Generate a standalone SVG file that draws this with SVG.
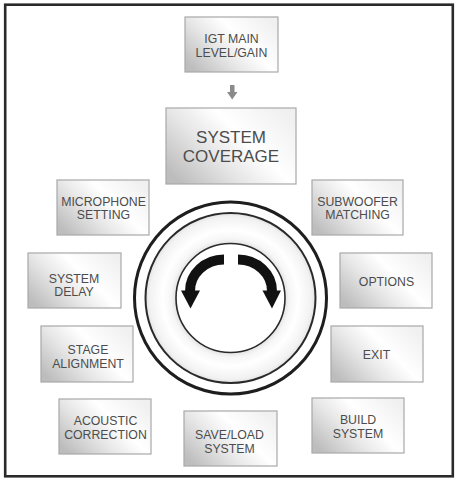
<svg xmlns="http://www.w3.org/2000/svg" width="456" height="479" viewBox="0 0 456 479">
<defs>
<linearGradient id="boxg" x1="0" y1="0.8" x2="1" y2="0.2">
<stop offset="0" stop-color="#bdbdbd"/>
<stop offset="0.35" stop-color="#e6e6e6"/>
<stop offset="0.62" stop-color="#ffffff"/>
<stop offset="1" stop-color="#f0f0f0"/>
</linearGradient>
<radialGradient id="ringg" cx="230.5" cy="298" r="85" gradientUnits="userSpaceOnUse">
<stop offset="0.64" stop-color="#e2e2e2"/>
<stop offset="0.7" stop-color="#f6f6f6"/>
<stop offset="0.8" stop-color="#ffffff"/>
<stop offset="0.95" stop-color="#f2f2f2"/>
<stop offset="1" stop-color="#e2e2e2"/>
</radialGradient>
<style>
.box{fill:url(#boxg);stroke:#a8a8a8;stroke-width:1.2}
.t{font-family:"Liberation Sans",Arial,sans-serif;font-size:12.3px;fill:#4c4c4c;text-anchor:middle}
.big{font-size:17px}
.arc{fill:none;stroke:#111;stroke-width:10}
</style>
</defs>
<rect x="0" y="0" width="456" height="479" fill="#ffffff"/>
<rect x="5.2" y="4.7" width="447.6" height="471.6" fill="none" stroke="#2a2a2a" stroke-width="2.6"/>
<g id="dial">
<circle cx="230.5" cy="298" r="96" fill="#ffffff" stroke="#1e1e1e" stroke-width="3"/>
<circle cx="230.5" cy="298" r="85" fill="url(#ringg)" stroke="#2a2a2a" stroke-width="2"/>
<circle cx="230.5" cy="298" r="54.5" fill="#ffffff" stroke="#2a2a2a" stroke-width="1.6"/>
<path class="arc" d="M224 259.5 A34 31.5 0 0 0 190 291.5"/>
<polygon points="181,290.5 200,290.5 190.5,308.5" fill="#111"/>
<path class="arc" d="M238 259.5 A34 31.5 0 0 1 272 291.5"/>
<polygon points="262.5,290.5 281,290.5 272,308.5" fill="#111"/>
</g>
<g id="connectors">
<polygon points="230,85 234.5,85 234.5,92 237.5,92 232.2,99.5 227,92 230,92" fill="#8a8a8a"/>
</g>
<g id="igt"><rect class="box" x="185" y="17" width="93" height="55"/><text class="t" x="231.5" y="43">IGT MAIN</text><text class="t" x="231.5" y="57">LEVEL/GAIN</text></g>
<g id="coverage"><rect class="box" x="166" y="108" width="130" height="76"/><text class="t big" x="231" y="143">SYSTEM</text><text class="t big" x="231" y="162">COVERAGE</text></g>
<g id="microphone"><rect class="box" x="57" y="180" width="92" height="55"/><text class="t" x="103.5" y="205.5">MICROPHONE</text><text class="t" x="103.5" y="218.5">SETTING</text></g>
<g id="subwoofer"><rect class="box" x="312" y="180" width="91" height="55"/><text class="t" x="357.5" y="205.5">SUBWOOFER</text><text class="t" x="357.5" y="218.5">MATCHING</text></g>
<g id="delay"><rect class="box" x="28" y="253" width="93" height="55"/><text class="t" x="74" y="282.5">SYSTEM</text><text class="t" x="74" y="295.5">DELAY</text></g>
<g id="options"><rect class="box" x="340" y="253" width="92" height="55"/><text class="t" x="386.5" y="285.5">OPTIONS</text></g>
<g id="stage"><rect class="box" x="41" y="326" width="92" height="56"/><text class="t" x="88" y="353.5">STAGE</text><text class="t" x="88" y="367.5">ALIGNMENT</text></g>
<g id="exit"><rect class="box" x="331" y="326" width="92" height="56"/><text class="t" x="376.5" y="358.5">EXIT</text></g>
<g id="acoustic"><rect class="box" x="59" y="399" width="92" height="55"/><text class="t" x="105.5" y="424.5">ACOUSTIC</text><text class="t" x="105.5" y="438.5">CORRECTION</text></g>
<g id="saveload"><rect class="box" x="184" y="411" width="93" height="55"/><text class="t" x="229.5" y="438.5">SAVE/LOAD</text><text class="t" x="229.5" y="452.5">SYSTEM</text></g>
<g id="build"><rect class="box" x="312" y="398" width="92" height="55"/><text class="t" x="358" y="423.5">BUILD</text><text class="t" x="358" y="437.5">SYSTEM</text></g>
</svg>
